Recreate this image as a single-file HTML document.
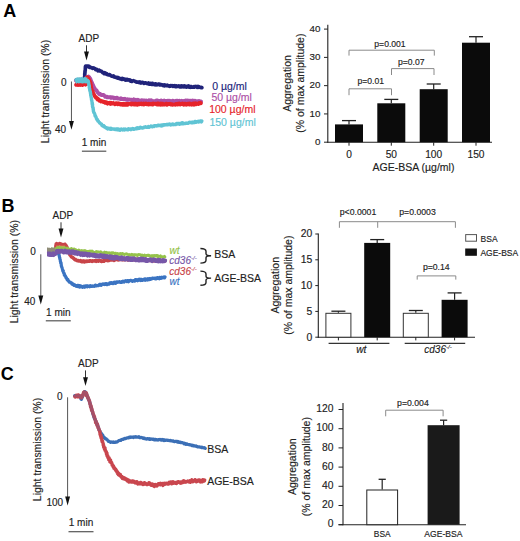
<!DOCTYPE html>
<html><head><meta charset="utf-8"><style>
html,body{margin:0;padding:0;background:#fff;}
svg{display:block;}
text{font-family:"Liberation Sans",sans-serif;}
</style></head><body>
<svg width="520" height="541" viewBox="0 0 520 541">
<rect width="520" height="541" fill="#fff"/>
<text x="3.3" y="16.6" font-size="18" text-anchor="start" fill="#000" font-weight="bold" font-style="normal" >A</text>
<text x="88.8" y="41.5" font-size="10" text-anchor="middle" fill="#222" font-weight="normal" font-style="normal" stroke="#222" stroke-width="0.15" >ADP</text>
<line x1="86.5" y1="45.3" x2="86.5" y2="52.599999999999994" stroke="#333" stroke-width="1"/>
<polygon points="84.05,51.599999999999994 88.95,51.599999999999994 86.5,60.4" fill="#111"/>
<text x="66.6" y="85.8" font-size="10" text-anchor="end" fill="#222" font-weight="normal" font-style="normal" stroke="#222" stroke-width="0.15" >0</text>
<text x="66.2" y="132.8" font-size="10" text-anchor="end" fill="#222" font-weight="normal" font-style="normal" stroke="#222" stroke-width="0.15" >40</text>
<line x1="71.45" y1="81.5" x2="71.45" y2="122.00000000000001" stroke="#555" stroke-width="1"/>
<polygon points="69.0,121.00000000000001 73.9,121.00000000000001 71.45,129.8" fill="#111"/>
<text transform="translate(49.0,91.5) rotate(-90)" font-size="10.45" text-anchor="middle" fill="#222" stroke="#222" stroke-width="0.15">Light transmission (%)</text>
<text x="94" y="145.6" font-size="10" text-anchor="middle" fill="#222" font-weight="normal" font-style="normal" stroke="#222" stroke-width="0.15" >1 min</text>
<line x1="81.9" y1="151.2" x2="106.3" y2="151.2" stroke="#555" stroke-width="1.2"/>
<polyline points="76.06,79.94 76.53,79.97 77.18,80.24 77.69,80.53 78.03,80.07 78.76,80.41 79.04,79.55 79.66,79.49 80.12,79.49 80.78,80.34 81.37,79.59 81.84,80.19 82.19,80.46 82.97,79.66 83.48,79.87 83.81,80.53 84.27,79.36 84.35,79.46 84.41,78.63 84.45,78.77 84.39,78.06 84.55,76.92 84.55,77.15 84.64,75.98 84.81,76.35 84.84,75.03 84.66,74.45 84.85,74.22 84.70,73.91 84.97,73.88 84.82,72.58 85.07,72.58 85.05,71.51 84.90,71.73 85.06,70.49 85.26,70.66 85.26,69.50 85.33,68.98 85.38,68.94 85.27,68.56 85.49,67.72 85.30,67.54 85.45,66.56 85.68,66.06 86.12,66.06 86.67,66.44 87.20,66.14 87.67,66.09 88.11,66.15 88.59,66.91 89.23,66.44 89.69,67.52 90.07,67.57 90.65,67.36 91.25,67.42 91.64,67.96 92.26,67.73 92.70,68.35 93.12,68.17 93.52,67.93 93.94,68.13 94.61,68.54 94.91,68.52 95.59,69.65 96.01,69.14 96.34,69.35 96.87,69.39 97.32,69.72 97.94,70.77 98.27,70.09 98.86,70.37 99.14,70.20 99.60,70.97 100.10,70.84 100.56,70.81 100.95,71.11 101.45,71.25 101.80,71.77 102.32,72.30 102.87,72.70 103.37,72.86 103.89,72.67 104.19,73.58 104.59,73.47 105.20,72.85 105.72,74.07 106.12,74.08 106.64,73.56 107.02,74.19 107.59,74.73 108.06,74.63 108.57,74.92 108.99,74.54 109.28,74.59 109.86,74.73 110.48,75.44 110.90,75.68 111.40,75.69 111.68,76.22 112.39,76.04 112.81,76.39 113.15,76.65 113.69,76.02 114.18,76.98 114.64,77.15 115.36,77.03 115.66,77.17 116.24,77.69 116.70,77.70 117.02,77.28 117.56,78.16 118.06,78.11 118.46,77.64 119.03,78.50 119.65,78.61 120.02,78.52 120.57,78.56 120.96,79.17 121.48,79.37 122.20,78.32 122.55,79.38 123.20,79.04 123.49,78.85 124.19,78.95 124.57,78.97 125.05,80.04 125.43,79.98 126.04,80.16 126.59,79.48 127.15,79.88 127.38,79.40 128.01,80.04 128.45,79.77 128.96,80.08 129.61,79.80 130.08,80.90 130.39,81.10 131.06,81.16 131.44,80.61 131.97,81.46 132.53,80.78 132.98,80.77 133.36,80.65 134.10,80.96 134.63,81.00 134.93,81.41 135.41,81.33 136.14,82.03 136.59,81.82 137.12,82.28 137.51,82.10 137.86,82.21 138.49,82.32 139.04,81.85 139.36,82.71 139.89,82.25 140.45,82.13 141.07,83.04 141.43,82.74 141.94,82.71 142.47,82.33 142.90,82.47 143.62,82.90 143.92,83.47 144.65,82.99 144.90,82.74 145.39,82.97 145.90,82.90 146.45,83.36 147.15,83.63 147.51,83.28 148.05,83.29 148.50,82.96 148.99,84.11 149.45,83.60 150.10,84.09 150.48,83.43 151.00,83.64 151.56,84.36 152.19,84.32 152.45,83.36 153.16,84.45 153.59,84.14 153.96,83.96 154.74,84.53 155.22,84.76 155.55,83.78 156.02,84.33 156.69,84.89 157.20,84.59 157.72,84.42 158.16,83.97 158.74,84.26 159.28,84.81 159.60,84.24 160.09,84.90 160.73,84.33 161.05,84.88 161.71,84.77 162.11,85.08 162.55,84.77 163.19,85.62 163.75,85.58 164.20,84.86 164.64,85.78 165.28,85.05 165.58,85.34 166.28,85.30 166.66,85.65 167.37,85.17 167.61,85.36 168.23,85.83 168.67,86.02 169.33,85.73 169.68,86.34 170.22,86.21 170.70,85.55 171.36,85.69 171.92,85.99 172.20,85.71 172.77,86.28 173.44,85.69 173.77,85.79 174.45,85.72 174.67,85.64 175.28,86.66 175.93,86.48 176.46,86.74 176.76,85.86 177.45,86.55 177.68,86.47 178.28,86.14 178.77,85.91 179.18,86.06 179.78,86.88 180.22,86.91 180.74,86.20 181.43,86.78 181.81,85.86 182.33,86.27 182.96,86.07 183.30,86.93 183.70,86.37 184.44,86.81 184.71,85.95 185.22,87.03 185.78,86.84 186.47,86.37 186.78,87.12 187.39,86.31 187.92,86.39 188.29,86.03 188.94,87.14 189.40,87.19 189.72,86.36 190.36,87.24 191.00,86.58 191.30,86.64 191.87,87.26 192.28,87.13 192.95,87.17 193.46,86.92 193.83,86.60 194.34,87.17 194.76,86.48 195.46,86.56 195.76,86.32 196.40,86.69 197.03,87.38 197.54,86.65 197.77,86.46 198.40,87.22 198.88,86.67 199.38,87.16 199.97,87.36 200.54,87.32 200.85,87.59 201.42,87.32 201.96,87.59" fill="none" stroke="#20237a" stroke-width="3.6" stroke-linejoin="round" stroke-linecap="round" opacity="1"/>
<polyline points="75.85,80.56 76.63,80.07 76.91,80.63 77.50,80.67 78.09,80.11 78.44,80.26 78.86,80.97 79.58,80.76 79.85,80.91 80.57,80.46 81.07,80.44 81.42,80.03 81.92,79.95 82.45,80.80 83.06,80.91 83.56,80.22 84.02,80.42 84.58,80.52 84.88,80.61 85.46,79.93 85.69,79.36 85.67,79.18 85.95,79.53 86.07,78.29 86.24,77.79 86.18,78.00 86.46,77.29 86.73,77.31 87.04,76.97 87.56,76.94 87.96,76.82 88.43,76.47 88.70,77.14 89.00,77.87 89.33,77.24 89.63,78.76 90.02,78.26 90.23,78.58 90.73,79.73 91.00,80.31 91.03,80.62 91.32,81.38 91.64,81.97 91.59,82.44 92.02,83.03 91.96,82.65 92.14,82.94 92.55,84.37 92.67,84.88 92.87,84.72 92.93,84.97 93.37,85.55 93.48,86.27 93.64,86.53 93.96,87.53 94.23,87.51 94.66,88.19 94.87,88.78 94.87,88.99 95.25,89.86 95.52,90.21 95.92,90.03 96.39,90.27 96.77,90.74 96.91,91.16 97.53,92.47 97.69,92.27 98.23,93.02 98.53,93.03 98.97,93.80 99.37,94.25 99.82,93.64 100.41,94.20 100.71,94.56 101.17,94.95 101.83,95.14 102.29,94.83 102.70,95.07 103.32,94.90 103.79,95.03 104.06,95.52 104.75,96.00 105.06,96.66 105.50,96.35 106.06,96.90 106.60,96.96 106.97,96.73 107.40,97.45 108.05,97.41 108.40,97.10 109.08,97.33 109.39,97.25 110.12,97.04 110.41,97.17 111.06,97.88 111.40,97.12 111.92,97.38 112.51,97.24 112.95,97.33 113.64,98.04 113.88,98.38 114.38,97.74 115.15,98.30 115.57,97.92 115.91,98.22 116.38,97.77 116.97,97.62 117.47,98.58 118.06,98.29 118.54,98.31 118.89,98.54 119.47,98.76 120.12,98.45 120.52,98.89 120.98,98.32 121.57,99.16 122.08,99.00 122.61,99.04 123.04,98.83 123.44,99.09 123.88,98.90 124.58,99.30 125.04,98.78 125.48,99.07 126.04,99.06 126.55,99.73 126.90,99.44 127.58,99.16 128.00,99.91 128.36,99.43 128.90,99.76 129.63,99.49 129.88,99.60 130.51,99.81 131.00,99.76 131.60,99.66 131.97,100.22 132.41,99.94 132.97,100.08 133.39,100.39 133.96,99.32 134.43,99.77 134.85,99.84 135.48,100.22 135.96,99.74 136.42,100.35 137.13,100.14 137.42,100.51 137.97,99.84 138.39,100.56 139.09,100.44 139.49,100.39 139.92,100.92 140.46,100.57 141.10,100.82 141.49,100.24 142.01,100.08 142.60,100.40 143.11,100.34 143.46,100.36 143.98,100.31 144.35,100.97 144.93,100.41 145.44,100.69 145.98,100.89 146.55,100.57 147.13,101.16 147.37,101.14 148.12,101.09 148.39,101.16 149.04,100.18 149.35,101.31 150.05,100.48 150.38,100.36 150.92,101.12 151.45,100.38 152.12,101.15 152.40,101.28 153.03,101.15 153.55,101.30 154.09,101.24 154.41,101.07 155.01,101.13 155.48,101.31 156.02,100.57 156.42,100.43 157.00,100.34 157.49,100.45 158.00,100.88 158.51,101.32 158.85,101.30 159.49,100.98 160.05,101.32 160.46,100.82 161.14,100.41 161.54,101.09 161.86,101.06 162.55,101.46 162.95,101.52 163.50,100.93 164.12,100.40 164.57,101.11 164.95,101.40 165.46,100.95 166.01,101.31 166.41,100.91 166.98,101.06 167.60,100.75 168.10,100.89 168.50,100.74 169.00,101.59 169.55,101.38 169.95,100.82 170.44,101.15 171.04,101.39 171.36,101.32 172.12,101.12 172.36,100.83 172.85,100.70 173.63,101.21 174.05,101.43 174.62,101.23 175.04,101.25 175.56,101.22 176.05,100.76 176.55,101.06 177.08,100.63 177.40,100.55 178.08,101.61 178.55,100.96 179.10,101.46 179.52,100.83 179.94,101.03 180.45,101.04 181.04,101.64 181.37,101.21 181.86,100.67 182.59,101.22 183.13,101.07 183.35,101.00 184.03,101.66 184.64,101.11 184.97,100.66 185.54,100.80 185.90,100.56 186.35,101.36 186.89,101.71 187.38,101.59 187.89,100.57 188.57,100.84 189.07,100.78 189.37,101.48 190.06,101.58 190.57,100.66 191.04,101.41 191.49,101.68 191.93,101.72 192.57,100.58 192.85,101.35 193.60,100.67 193.94,101.45 194.40,101.61 195.00,100.65 195.46,101.27 195.98,101.39 196.39,101.54 196.96,101.36 197.54,101.09 197.97,101.53 198.63,101.53 199.02,100.94 199.37,101.76 200.06,101.59 200.45,101.33 201.14,101.60" fill="none" stroke="#ad4fa6" stroke-width="3.8" stroke-linejoin="round" stroke-linecap="round" opacity="1"/>
<polyline points="76.03,84.81 76.39,84.40 77.07,83.83 77.60,84.91 77.97,84.19 78.60,84.34 78.97,84.92 79.58,84.07 79.92,84.07 80.48,84.97 81.09,84.88 81.59,84.79 81.87,84.32 82.64,84.91 82.92,84.19 83.54,84.11 84.01,83.70 84.48,84.31 84.85,83.79 85.58,84.62 85.92,84.24 86.08,84.25 86.19,82.59 86.17,82.40 86.22,81.88 86.22,82.27 86.29,80.80 86.30,80.53 86.47,79.80 86.32,79.78 86.31,79.19 86.65,78.59 86.65,78.12 87.06,77.40 87.36,77.23 87.81,77.66 88.12,77.67 88.31,78.47 88.76,79.00 88.90,79.51 89.01,80.04 89.31,80.27 89.57,80.61 89.70,80.74 89.88,81.57 90.11,82.14 90.13,82.30 90.49,82.63 90.50,83.49 90.51,84.68 90.61,84.88 90.66,84.39 90.97,85.42 90.82,85.84 91.03,86.83 91.02,86.62 91.37,87.83 91.22,87.77 91.37,88.75 91.55,89.49 91.72,89.52 91.83,90.32 92.00,90.41 92.21,91.20 92.45,90.84 92.65,91.12 92.83,92.39 92.95,93.38 93.19,93.07 93.46,94.16 93.62,93.92 93.79,94.48 94.12,94.68 94.29,95.47 94.59,95.55 95.02,96.69 95.25,96.52 95.47,96.73 95.77,97.50 96.22,97.21 96.67,97.90 97.03,98.94 97.47,98.36 97.72,99.63 98.01,98.71 98.59,99.62 99.12,100.28 99.44,100.85 99.89,100.39 100.41,100.39 100.78,100.86 101.26,101.53 101.83,101.11 102.13,101.07 102.70,101.51 103.22,102.13 103.81,101.76 104.13,102.12 104.77,101.91 105.11,102.74 105.48,102.22 106.19,103.10 106.53,102.26 107.13,103.20 107.60,103.71 108.12,102.96 108.40,102.82 109.00,103.16 109.41,102.75 110.04,103.37 110.46,103.96 111.04,102.67 111.47,103.75 111.94,103.65 112.35,103.15 113.10,103.58 113.55,103.07 114.00,103.61 114.43,103.78 115.01,104.31 115.52,103.53 115.89,103.21 116.58,103.18 116.88,103.30 117.51,104.26 118.03,104.27 118.37,103.20 119.08,103.67 119.56,103.75 119.90,103.67 120.38,104.60 121.02,103.86 121.48,103.95 121.87,104.69 122.52,104.83 122.98,104.39 123.42,103.62 124.13,104.78 124.44,104.85 125.09,104.01 125.53,104.92 126.00,104.90 126.42,104.11 127.07,103.86 127.44,104.77 128.00,104.65 128.42,103.78 128.96,103.79 129.64,103.92 130.02,103.67 130.51,104.04 130.97,103.59 131.39,104.64 131.96,103.82 132.41,103.87 132.92,103.51 133.55,103.94 133.90,104.44 134.38,103.82 135.10,103.61 135.48,104.60 136.09,103.64 136.46,104.42 136.96,104.75 137.41,104.73 138.00,103.71 138.49,103.57 139.06,103.74 139.62,104.19 139.96,103.70 140.53,103.65 141.11,103.52 141.50,104.10 141.93,104.41 142.47,104.24 143.02,103.75 143.47,103.43 143.90,104.50 144.45,104.23 144.88,104.10 145.46,104.02 145.94,103.41 146.44,103.64 146.89,104.34 147.43,103.90 148.12,104.43 148.61,104.55 148.89,103.74 149.36,104.31 150.05,103.86 150.47,104.29 151.06,103.72 151.60,103.87 152.04,103.64 152.38,104.67 153.07,104.39 153.36,103.46 153.90,103.68 154.44,103.95 154.86,103.85 155.54,103.67 156.10,104.23 156.56,103.79 156.98,104.40 157.45,103.45 158.10,104.54 158.44,103.52 159.11,104.31 159.36,103.81 159.88,104.58 160.41,104.76 161.07,103.60 161.56,104.04 162.07,104.65 162.43,103.62 163.13,104.10 163.63,104.48 164.07,104.68 164.54,104.15 164.87,104.50 165.48,104.25 166.13,103.71 166.58,103.60 167.06,104.67 167.43,104.32 168.14,104.45 168.51,103.91 168.87,104.07 169.47,103.86 169.94,103.77 170.56,104.52 170.92,103.93 171.50,104.22 172.13,104.09 172.44,104.83 172.89,104.38 173.45,104.72 174.01,104.64 174.40,104.50 175.03,104.21 175.58,104.72 175.88,103.95 176.46,103.83 176.87,103.93 177.41,104.51 177.98,103.68 178.45,104.17 178.96,103.74 179.37,103.52 180.15,104.55 180.38,104.49 181.14,104.27 181.38,104.16 181.98,103.74 182.51,103.47 183.13,104.36 183.54,104.76 184.05,103.80 184.42,103.63 184.86,104.51 185.60,103.84 185.91,104.31 186.60,104.71 186.90,104.50 187.60,104.44 187.95,103.65 188.60,103.83 188.96,104.15 189.46,104.54 189.92,103.42 190.52,104.24 191.10,104.34 191.62,104.67 192.00,104.04 192.40,103.75 193.02,103.44 193.56,103.55 193.98,104.67 194.38,103.36 194.98,103.54 195.57,103.24 196.10,104.38 196.59,103.72 196.93,103.99 197.50,103.60 197.95,103.56 198.55,104.05 199.12,103.06 199.44,103.40 200.02,103.20 200.41,102.78 200.95,103.24" fill="none" stroke="#e6232a" stroke-width="3.8" stroke-linejoin="round" stroke-linecap="round" opacity="1"/>
<polyline points="75.96,79.88 76.40,80.59 77.13,79.89 77.36,80.63 77.92,80.88 78.50,80.46 78.95,80.66 79.49,80.09 80.12,79.83 80.57,79.78 81.04,80.18 81.61,79.77 82.02,80.19 82.63,80.83 83.04,79.97 83.43,80.01 83.98,79.98 84.41,80.61 85.04,80.06 85.65,79.96 86.02,79.89 86.62,80.79 86.97,80.77 87.65,80.45 87.91,81.06 88.34,81.11 88.42,82.12 88.45,82.60 88.67,82.65 88.76,83.33 88.82,84.44 88.73,84.94 89.06,84.76 88.86,85.03 89.23,85.41 89.30,86.08 89.34,86.52 89.26,87.72 89.32,87.81 89.66,88.76 89.74,89.58 89.57,89.18 89.89,90.23 89.76,90.51 89.91,90.92 89.97,90.92 90.33,91.78 90.39,92.04 90.37,92.56 90.44,93.11 90.62,93.58 90.73,94.50 90.63,94.82 90.84,96.00 90.89,95.66 91.18,96.96 91.20,96.73 91.13,97.22 91.19,97.45 91.42,98.39 91.53,98.84 91.46,99.73 91.74,100.05 91.79,100.73 92.00,101.45 92.00,101.38 91.96,101.90 92.23,102.36 92.14,102.89 92.14,104.10 92.18,104.13 92.53,104.21 92.52,104.85 92.48,105.14 92.52,106.41 92.80,106.99 92.66,107.23 92.82,107.68 92.97,107.78 93.17,107.90 93.18,109.42 93.19,109.61 93.41,109.68 93.38,110.79 93.40,111.25 93.53,111.52 93.76,112.19 93.86,112.61 94.13,112.60 94.36,113.12 94.65,113.85 94.80,114.39 94.93,114.50 95.04,115.82 95.36,115.82 95.57,116.64 95.69,116.35 96.07,117.17 96.22,118.09 96.50,118.61 96.45,118.50 96.91,119.50 96.95,119.15 97.29,119.51 97.65,120.76 98.04,120.74 98.26,121.07 98.88,121.83 99.06,121.97 99.51,122.71 99.66,123.02 100.08,123.22 100.38,123.44 100.76,123.86 101.02,124.02 101.57,124.21 101.86,125.31 102.33,125.13 102.76,126.01 103.16,126.04 103.84,125.79 104.15,126.77 104.66,126.53 104.93,126.88 105.48,127.48 105.90,127.38 106.45,128.13 106.82,127.87 107.35,128.71 107.71,128.90 108.36,128.27 108.85,128.28 109.17,128.85 109.76,128.64 110.30,129.15 110.88,128.16 111.33,128.74 111.79,129.26 112.27,128.88 112.92,128.90 113.30,129.04 113.90,129.30 114.37,129.03 114.66,129.43 115.32,129.60 115.88,128.88 116.22,128.89 116.90,128.98 117.18,129.82 117.82,129.04 118.35,129.88 118.80,129.13 119.36,129.57 119.83,130.26 120.41,130.09 120.71,129.43 121.33,129.02 121.97,129.33 122.26,129.35 122.76,129.99 123.36,129.56 123.82,128.99 124.29,129.95 124.94,129.92 125.28,129.12 125.73,129.50 126.33,129.40 126.87,129.52 127.33,129.77 127.79,129.89 128.40,128.83 128.83,129.39 129.36,129.41 129.84,129.04 130.49,129.02 130.97,129.58 131.44,129.10 132.04,129.01 132.53,128.47 132.90,129.10 133.29,129.29 133.80,128.90 134.34,129.22 134.96,129.00 135.44,128.77 136.00,128.24 136.37,128.82 136.85,128.84 137.37,127.79 137.84,128.53 138.60,128.02 139.02,127.75 139.60,128.19 139.88,127.36 140.55,127.27 141.09,127.50 141.41,127.77 141.94,127.68 142.40,128.03 142.95,127.88 143.40,127.77 144.14,127.22 144.36,127.14 145.04,126.89 145.51,126.67 145.99,127.37 146.48,127.25 146.88,127.37 147.39,127.42 148.15,127.38 148.51,126.54 148.95,127.03 149.50,127.18 149.88,126.59 150.61,126.67 151.01,126.00 151.39,126.17 152.12,126.80 152.42,126.84 152.86,126.40 153.64,126.04 154.13,126.36 154.37,125.92 154.98,125.77 155.57,125.63 156.09,125.72 156.37,125.98 156.88,125.92 157.59,125.92 157.99,125.19 158.50,125.22 159.04,125.21 159.52,125.42 159.96,125.74 160.40,125.09 161.13,125.23 161.60,125.83 161.99,124.91 162.38,125.73 162.89,125.22 163.51,124.71 163.99,124.71 164.51,125.07 164.96,124.65 165.47,124.60 165.89,124.59 166.61,124.86 167.12,124.22 167.65,124.74 168.12,124.78 168.60,124.33 169.14,124.18 169.51,123.99 170.06,124.52 170.55,124.92 171.00,124.49 171.56,124.46 172.24,124.55 172.54,123.94 173.21,124.78 173.56,124.29 174.27,124.48 174.68,124.42 175.23,124.51 175.61,124.48 176.25,123.79 176.67,123.54 177.38,124.01 177.72,123.56 178.23,123.34 178.77,123.45 179.51,124.20 179.97,123.53 180.39,123.84 181.02,123.75 181.44,123.04 181.94,123.77 182.49,122.82 182.97,123.07 183.30,123.77 183.95,123.45 184.29,123.50 185.03,123.55 185.47,123.41 185.99,123.07 186.38,123.30 186.99,123.31 187.34,123.37 187.91,123.30 188.28,123.28 188.99,122.37 189.50,122.30 189.81,122.52 190.32,122.51 191.02,122.70 191.46,122.30 191.99,122.73 192.45,122.86 193.00,122.17 193.28,122.41 194.00,121.99 194.43,122.54 194.99,121.49 195.40,121.45 195.78,122.36 196.38,122.06 196.89,121.69 197.31,121.66 198.00,121.93 198.34,121.25 198.83,121.93 199.38,121.84 199.99,121.14 200.45,121.00 201.00,121.12 201.33,122.00 201.86,121.07" fill="none" stroke="#60c4d4" stroke-width="3.4" stroke-linejoin="round" stroke-linecap="round" opacity="1"/>
<polygon points="75.80,77.77 76.30,77.43 76.80,77.77 77.30,77.17 77.80,77.30 78.30,77.85 78.80,77.31 79.30,77.89 79.80,76.93 80.30,77.70 80.80,76.89 81.30,77.33 81.80,76.70 82.30,76.91 82.80,77.83 83.30,77.25 83.80,77.67 84.30,77.00 84.80,77.12 85.30,76.82 85.80,77.36 86.30,77.73 86.80,77.32 87.30,77.15 87.30,83.67 86.80,83.50 86.30,83.14 85.80,83.27 85.30,83.42 84.80,83.60 84.30,82.67 83.80,83.77 83.30,83.04 82.80,83.20 82.30,83.69 81.80,83.41 81.30,83.23 80.80,83.05 80.30,83.36 79.80,83.39 79.30,83.03 78.80,83.75 78.30,83.13 77.80,83.35 77.30,82.69 76.80,83.40 76.30,83.67 75.80,83.71" fill="#60c4d4" opacity="1"/>
<text x="212.3" y="89.8" font-size="10.5" text-anchor="start" fill="#20237a" font-weight="normal" font-style="normal" stroke="#20237a" stroke-width="0.15" >0 µg/ml</text>
<text x="211.4" y="101.3" font-size="10.5" text-anchor="start" fill="#ad4fa6" font-weight="normal" font-style="normal" stroke="#ad4fa6" stroke-width="0.15" >50 µg/ml</text>
<text x="209.2" y="112.8" font-size="10.5" text-anchor="start" fill="#e6232a" font-weight="normal" font-style="normal" stroke="#e6232a" stroke-width="0.15" >100 µg/ml</text>
<text x="209.4" y="125.8" font-size="10.5" text-anchor="start" fill="#60c4d4" font-weight="normal" font-style="normal" stroke="#60c4d4" stroke-width="0.15" >150 µg/ml</text>
<line x1="327.8" y1="24.8" x2="327.8" y2="142.7" stroke="#222" stroke-width="1.1"/>
<line x1="327.3" y1="142.2" x2="492" y2="142.2" stroke="#222" stroke-width="1.1"/>
<line x1="324.0" y1="142.2" x2="327.8" y2="142.2" stroke="#222" stroke-width="1"/>
<text x="320.5" y="144.89999999999998" font-size="9.8" text-anchor="end" fill="#222" font-weight="normal" font-style="normal" stroke="#222" stroke-width="0.15" >0</text>
<line x1="324.0" y1="113.92499999999998" x2="327.8" y2="113.92499999999998" stroke="#222" stroke-width="1"/>
<text x="320.5" y="116.62499999999999" font-size="9.8" text-anchor="end" fill="#222" font-weight="normal" font-style="normal" stroke="#222" stroke-width="0.15" >10</text>
<line x1="324.0" y1="85.64999999999999" x2="327.8" y2="85.64999999999999" stroke="#222" stroke-width="1"/>
<text x="320.5" y="88.35" font-size="9.8" text-anchor="end" fill="#222" font-weight="normal" font-style="normal" stroke="#222" stroke-width="0.15" >20</text>
<line x1="324.0" y1="57.375" x2="327.8" y2="57.375" stroke="#222" stroke-width="1"/>
<text x="320.5" y="60.075" font-size="9.8" text-anchor="end" fill="#222" font-weight="normal" font-style="normal" stroke="#222" stroke-width="0.15" >30</text>
<line x1="324.0" y1="29.099999999999994" x2="327.8" y2="29.099999999999994" stroke="#222" stroke-width="1"/>
<text x="320.5" y="31.799999999999994" font-size="9.8" text-anchor="end" fill="#222" font-weight="normal" font-style="normal" stroke="#222" stroke-width="0.15" >40</text>
<line x1="349.0" y1="124.4" x2="349.0" y2="120.6" stroke="#222" stroke-width="1.2"/>
<line x1="342.0" y1="120.6" x2="356.0" y2="120.6" stroke="#222" stroke-width="1.3"/>
<rect x="335" y="124.4" width="28" height="17.799999999999983" fill="#0b0b0b"/>
<line x1="349.0" y1="142.2" x2="349.0" y2="145.7" stroke="#222" stroke-width="1"/>
<line x1="391.3" y1="103.3" x2="391.3" y2="99.4" stroke="#222" stroke-width="1.2"/>
<line x1="384.3" y1="99.4" x2="398.3" y2="99.4" stroke="#222" stroke-width="1.3"/>
<rect x="377.3" y="103.3" width="28" height="38.89999999999999" fill="#0b0b0b"/>
<line x1="391.3" y1="142.2" x2="391.3" y2="145.7" stroke="#222" stroke-width="1"/>
<line x1="433.7" y1="89.2" x2="433.7" y2="84.0" stroke="#222" stroke-width="1.2"/>
<line x1="426.7" y1="84.0" x2="440.7" y2="84.0" stroke="#222" stroke-width="1.3"/>
<rect x="419.7" y="89.2" width="28" height="52.999999999999986" fill="#0b0b0b"/>
<line x1="433.7" y1="142.2" x2="433.7" y2="145.7" stroke="#222" stroke-width="1"/>
<line x1="476.0" y1="42.7" x2="476.0" y2="36.7" stroke="#222" stroke-width="1.2"/>
<line x1="469.0" y1="36.7" x2="483.0" y2="36.7" stroke="#222" stroke-width="1.3"/>
<rect x="462" y="42.7" width="28" height="99.49999999999999" fill="#0b0b0b"/>
<line x1="476.0" y1="142.2" x2="476.0" y2="145.7" stroke="#222" stroke-width="1"/>
<text x="349.0" y="157.9" font-size="10.2" text-anchor="middle" fill="#222" font-weight="normal" font-style="normal" stroke="#222" stroke-width="0.15" >0</text>
<text x="391.3" y="157.9" font-size="10.2" text-anchor="middle" fill="#222" font-weight="normal" font-style="normal" stroke="#222" stroke-width="0.15" >50</text>
<text x="433.7" y="157.9" font-size="10.2" text-anchor="middle" fill="#222" font-weight="normal" font-style="normal" stroke="#222" stroke-width="0.15" >100</text>
<text x="476.0" y="157.9" font-size="10.2" text-anchor="middle" fill="#222" font-weight="normal" font-style="normal" stroke="#222" stroke-width="0.15" >150</text>
<text x="413.5" y="171.3" font-size="10.5" text-anchor="middle" fill="#222" font-weight="normal" font-style="normal" stroke="#222" stroke-width="0.15" >AGE-BSA (µg/ml)</text>
<text transform="translate(290.6,83.5) rotate(-90)" font-size="10.5" text-anchor="middle" fill="#222" stroke="#222" stroke-width="0.15">Aggregation</text>
<text transform="translate(303.6,83.2) rotate(-90)" font-size="10.5" text-anchor="middle" fill="#222" stroke="#222" stroke-width="0.15">(% of max amplitude)</text>
<polyline points="349,95.2 349,88.8 391.5,88.8 391.5,95.2" fill="none" stroke="#8a8a8a" stroke-width="1"/>
<text x="370.8" y="84" font-size="8.6" text-anchor="middle" fill="#222" font-weight="normal" font-style="normal" stroke="#222" stroke-width="0.15" >p=0.01</text>
<polyline points="391.5,75 391.5,68.6 434,68.6 434,75" fill="none" stroke="#8a8a8a" stroke-width="1"/>
<text x="411.3" y="65" font-size="8.6" text-anchor="middle" fill="#222" font-weight="normal" font-style="normal" stroke="#222" stroke-width="0.15" >p=0.07</text>
<polyline points="349,55.6 349,50.2 434.3,50.2 434.3,55.6" fill="none" stroke="#8a8a8a" stroke-width="1"/>
<text x="390" y="46.5" font-size="8.6" text-anchor="middle" fill="#222" font-weight="normal" font-style="normal" stroke="#222" stroke-width="0.15" >p=0.001</text>
<text x="1.5" y="211.5" font-size="18" text-anchor="start" fill="#000" font-weight="bold" font-style="normal" >B</text>
<text x="62.9" y="218.5" font-size="10" text-anchor="middle" fill="#222" font-weight="normal" font-style="normal" stroke="#222" stroke-width="0.15" >ADP</text>
<line x1="61" y1="222.3" x2="61" y2="229.6" stroke="#333" stroke-width="1"/>
<polygon points="58.55,228.6 63.45,228.6 61,237.4" fill="#111"/>
<text x="35.8" y="255.4" font-size="10" text-anchor="end" fill="#222" font-weight="normal" font-style="normal" stroke="#222" stroke-width="0.15" >0</text>
<line x1="40.8" y1="254.3" x2="40.8" y2="296.59999999999997" stroke="#555" stroke-width="1"/>
<polygon points="38.349999999999994,295.59999999999997 43.25,295.59999999999997 40.8,304.4" fill="#111"/>
<text x="35.4" y="305.4" font-size="10" text-anchor="end" fill="#222" font-weight="normal" font-style="normal" stroke="#222" stroke-width="0.15" >40</text>
<text transform="translate(18.1,271.7) rotate(-90)" font-size="10.45" text-anchor="middle" fill="#222" stroke="#222" stroke-width="0.15">Light transmission (%)</text>
<text x="58.3" y="316.2" font-size="10" text-anchor="middle" fill="#222" font-weight="normal" font-style="normal" stroke="#222" stroke-width="0.15" >1 min</text>
<line x1="45.8" y1="320.8" x2="70.8" y2="320.8" stroke="#555" stroke-width="1.2"/>
<polyline points="48.64,252.42 49.07,252.36 49.59,252.91 49.89,251.92 50.41,252.60 50.96,251.91 51.60,252.84 51.99,251.95 52.62,252.54 52.87,252.29 53.54,252.96 54.00,252.67 54.40,252.18 55.06,252.29 55.16,252.37 55.36,251.56 55.54,251.56 55.63,251.19 55.61,249.91 55.72,249.37 55.68,249.27 55.77,249.13 55.67,248.53 55.84,247.80 55.71,247.80 55.87,246.27 55.80,246.86 55.82,245.63 56.03,245.63 56.07,245.07 56.08,243.93 56.70,244.57 56.87,243.57 57.43,244.57 57.93,244.24 58.66,244.19 59.17,243.75 59.47,243.47 60.17,243.59 60.76,244.33 61.04,244.46 61.56,244.12 62.07,244.47 62.82,244.64 63.08,244.58 63.77,244.56 64.25,244.39 64.73,244.77 64.96,244.19 65.44,244.90 65.71,245.02 66.13,245.51 66.47,246.93 66.66,246.58 66.99,247.15 67.15,247.51 67.51,248.50 67.52,248.43 67.82,249.81 68.04,249.39 68.08,250.10 68.39,250.39 68.53,251.86 68.76,251.17 68.74,251.77 69.11,252.83 69.25,253.13 69.40,253.79 69.68,254.62 69.96,254.93 70.33,255.41 70.64,254.86 71.01,256.26 71.32,256.71 71.63,257.20 72.10,257.32 72.45,257.22 72.90,257.61 73.27,258.09 73.97,258.67 74.40,259.13 74.82,259.73 75.24,259.18 75.56,259.60 75.99,259.59 76.77,260.57 77.13,260.53 77.79,260.81 78.32,260.52 78.65,261.01 79.24,260.91 79.78,260.94 80.48,260.62 80.88,261.33 81.40,261.76 81.88,261.77 82.47,261.84 82.80,260.93 83.37,261.76 83.79,260.98 84.51,261.84 84.85,261.17 85.51,261.47 86.04,261.54 86.40,260.94 86.84,261.45 87.40,260.92 88.13,261.38 88.53,261.38 89.04,261.42 89.46,260.66 89.89,260.59 90.49,260.74 90.92,261.15 91.69,261.38 91.99,261.47 92.46,260.66 93.01,261.02 93.63,261.06 94.15,260.63 94.72,260.92 95.20,260.54 95.70,260.77 96.22,261.45 96.67,260.81 96.98,260.70 97.76,260.66 98.19,261.16 98.70,260.67 99.05,260.56 99.81,260.90 100.22,261.11 100.60,260.50 101.04,261.44 101.58,261.56 102.16,261.25 102.61,261.29 103.15,260.73 103.75,260.38 104.18,261.15 104.71,260.60 105.37,260.35 105.71,260.30 106.28,260.42 106.87,260.49 107.45,259.94 107.91,260.83 108.29,259.81 108.87,259.86 109.39,260.52 109.79,259.76 110.42,259.77 110.86,260.04 111.34,259.54 111.93,259.97 112.61,260.02 112.86,259.58 113.57,259.96 114.11,260.42 114.61,259.38 115.13,259.86 115.42,259.42 116.11,259.45 116.37,259.49 117.13,259.71 117.57,259.23 117.99,259.50 118.41,259.90 118.96,259.23 119.65,259.65 119.90,259.07 120.55,259.65 120.86,259.58 121.57,259.64 121.92,259.58 122.53,259.75 122.89,259.91 123.63,259.82 124.11,259.35 124.62,259.11 124.92,259.59 125.62,258.96 125.92,258.88 126.48,258.99 126.91,259.70 127.52,259.92 127.97,259.59 128.35,259.89 128.92,259.31 129.50,259.86 130.00,259.91 130.54,258.99 131.10,258.99 131.65,259.31 131.92,259.94 132.45,259.30 132.95,259.63 133.36,259.30 133.90,259.87 134.35,259.62 134.93,259.46 135.52,259.79 135.89,259.25 136.39,260.13 136.89,259.16 137.51,259.72 138.12,259.11 138.42,259.27 139.03,259.63 139.47,260.17 140.05,260.16 140.64,259.47 141.13,259.66 141.37,260.29 141.88,259.24 142.44,259.58 143.14,260.30 143.48,259.91 144.10,260.27 144.55,259.94 144.88,259.64 145.55,260.07 146.09,260.46 146.64,259.64 146.87,260.51 147.52,259.67 148.06,259.78 148.42,259.93 149.01,260.33 149.37,260.43 150.04,260.12 150.55,260.54 150.85,260.17 151.55,260.47 152.04,259.86 152.64,260.61 152.92,260.20 153.64,259.96 153.97,260.88 154.62,260.03 155.07,260.20 155.55,260.71 155.89,260.08 156.41,260.15 156.86,260.02 157.47,260.38 157.87,260.60 158.63,260.61 158.96,260.79 159.48,260.17 159.99,260.01 160.55,260.20 160.96,261.18 161.58,261.05 162.04,260.83 162.56,261.25 162.91,261.03 163.44,260.44 164.10,260.88 164.60,261.23 165.03,260.44" fill="none" stroke="#c84448" stroke-width="3.4" stroke-linejoin="round" stroke-linecap="round" opacity="1"/>
<rect x="56" y="245.5" width="9" height="3.5" fill="#d9884a" opacity="0.8"/>
<polyline points="48.96,252.79 49.66,253.28 49.92,253.60 50.42,253.10 51.05,253.28 51.57,252.33 52.12,253.41 52.72,252.70 53.07,253.27 53.76,252.47 54.30,253.61 54.69,252.68 55.29,253.49 55.65,252.54 56.21,253.17 56.66,252.83 57.21,252.86 57.50,253.01 58.09,252.14 58.29,251.47 58.51,252.21 58.60,253.09 58.60,253.68 58.67,252.84 58.87,254.66 59.10,255.26 59.10,255.74 59.22,255.07 59.36,256.58 59.41,256.79 59.47,256.81 59.64,257.68 59.76,257.56 59.74,258.45 60.06,259.57 60.03,259.34 60.23,259.73 60.37,261.32 60.36,261.35 60.63,262.11 60.74,262.55 60.72,263.25 61.03,262.58 61.15,263.67 61.00,263.62 61.33,265.04 61.24,265.21 61.50,266.53 61.53,266.69 61.62,266.34 61.73,267.15 62.01,267.48 62.04,267.83 62.19,268.27 62.43,269.21 62.56,269.65 62.81,270.87 62.99,271.30 63.16,270.66 63.36,271.06 63.41,271.42 63.74,273.24 63.82,272.80 64.00,273.27 64.25,273.81 64.26,274.99 64.57,274.18 64.86,275.71 64.96,276.00 65.40,276.08 65.54,276.34 65.86,277.30 66.20,278.15 66.31,277.68 66.81,278.74 67.01,278.98 67.22,279.80 67.57,279.40 67.75,279.38 68.25,280.82 68.29,280.50 68.75,281.13 69.09,282.06 69.49,281.82 70.07,282.27 70.35,282.09 70.74,282.79 71.27,282.56 71.56,283.03 71.97,284.11 72.44,283.44 72.79,284.54 73.16,284.63 73.53,284.17 73.96,285.35 74.43,284.71 74.87,284.93 75.56,285.74 76.10,286.19 76.49,286.26 76.84,286.37 77.44,285.38 78.02,286.49 78.41,285.45 79.05,286.54 79.46,286.99 79.78,285.71 80.30,285.77 80.97,286.77 81.29,286.13 81.82,286.81 82.47,287.34 82.89,287.32 83.42,286.40 83.88,286.13 84.61,287.24 85.04,285.98 85.39,285.91 85.96,286.76 86.38,286.41 87.08,285.63 87.52,286.74 88.07,286.19 88.67,286.38 89.02,286.04 89.71,286.71 90.21,286.22 90.49,285.60 91.07,286.32 91.46,286.42 92.20,285.93 92.47,286.29 93.10,286.03 93.65,286.05 94.10,286.33 94.77,286.22 95.17,285.24 95.61,285.10 96.27,285.82 96.74,285.80 97.30,285.53 97.61,285.57 98.09,285.29 98.57,285.59 99.17,284.65 99.81,284.30 100.31,285.25 100.58,285.19 101.21,285.34 101.72,284.56 102.33,283.98 102.78,283.93 103.13,283.87 103.81,284.29 104.27,283.94 104.77,284.45 105.08,284.15 105.77,283.65 106.25,283.68 106.66,284.56 107.33,284.61 107.68,283.89 108.29,284.10 108.69,284.18 109.17,284.24 109.69,282.92 110.27,282.88 110.75,282.67 111.35,283.33 111.77,282.64 112.24,282.94 112.62,283.52 113.06,282.94 113.58,283.43 114.33,282.13 114.72,282.71 115.31,283.03 115.71,283.26 116.17,281.99 116.88,281.89 117.20,282.39 117.76,281.81 118.45,282.21 118.92,281.80 119.47,281.68 119.99,282.20 120.52,282.36 120.93,281.93 121.51,281.72 121.80,282.36 122.52,281.94 123.02,281.19 123.45,282.00 124.11,282.08 124.38,281.65 125.01,281.17 125.40,280.71 125.99,281.20 126.43,280.97 127.02,281.51 127.53,280.57 128.12,280.83 128.64,281.71 128.89,281.06 129.64,280.72 130.01,280.57 130.36,280.36 130.89,280.44 131.54,280.81 132.13,280.95 132.46,281.30 133.04,280.64 133.61,280.79 133.96,280.65 134.44,281.15 134.92,281.11 135.37,279.62 136.02,279.87 136.50,279.69 137.10,280.47 137.56,280.82 138.15,280.40 138.56,279.34 138.86,279.93 139.64,279.71 140.02,279.21 140.47,280.51 141.03,280.35 141.35,279.37 141.90,280.27 142.38,280.37 142.93,280.25 143.50,279.37 144.14,279.45 144.56,278.90 145.10,280.22 145.38,279.82 145.93,278.87 146.46,279.59 147.14,280.04 147.65,279.43 148.05,278.69 148.57,279.23 148.96,279.70 149.43,278.51 149.90,278.47 150.53,279.40 150.90,278.90 151.52,278.94 151.97,278.87 152.35,278.09 152.98,278.31 153.58,278.26 154.10,278.21 154.38,278.52 154.97,278.25 155.58,278.03 156.05,278.90 156.49,278.35 157.13,278.46 157.40,277.60 157.87,277.95 158.38,278.37 158.98,277.81 159.50,278.70 159.92,277.48 160.44,277.69 161.12,278.21 161.48,277.35 161.86,277.23 162.60,277.97 162.90,277.89 163.37,277.66 163.95,277.00 164.57,277.88 165.00,277.00" fill="none" stroke="#3b74c2" stroke-width="3.2" stroke-linejoin="round" stroke-linecap="round" opacity="1"/>
<polyline points="48.38,249.32 48.98,249.51 49.44,249.78 50.00,250.17 50.40,249.51 51.00,249.32 51.61,249.09 52.11,249.30 52.45,249.66 53.02,249.20 53.38,250.14 53.96,248.96 54.54,249.54 54.93,249.19 55.53,249.01 55.79,249.51 56.14,248.29 56.48,248.30 57.07,247.81 57.47,247.46 58.09,247.77 58.60,247.67 59.07,247.19 59.42,248.51 60.05,248.12 60.50,247.85 60.91,247.44 61.54,248.18 61.93,248.12 62.39,248.08 62.90,247.95 63.44,248.02 63.89,247.93 64.53,247.46 64.94,248.23 65.51,248.16 66.08,248.14 66.42,248.03 67.10,248.29 67.58,248.11 67.98,249.06 68.60,248.71 68.88,248.76 69.36,249.31 70.14,249.12 70.43,249.38 70.90,249.46 71.51,248.42 72.12,249.12 72.60,249.56 73.01,249.91 73.41,250.06 73.95,248.94 74.45,249.09 74.87,249.97 75.39,249.42 75.94,249.69 76.63,250.67 77.11,250.89 77.48,250.71 77.93,251.00 78.59,250.83 78.92,250.03 79.63,250.77 80.03,251.28 80.39,251.11 80.99,251.28 81.49,250.49 82.14,250.65 82.57,251.46 82.92,251.31 83.47,250.69 83.92,251.75 84.46,251.16 85.00,250.53 85.58,251.57 86.11,251.07 86.41,251.09 87.07,251.57 87.47,251.42 87.90,252.01 88.49,251.47 89.09,251.08 89.57,251.34 90.09,251.01 90.43,251.81 90.99,251.49 91.52,251.30 91.98,251.04 92.59,251.43 93.10,251.89 93.53,252.03 93.89,252.28 94.44,252.44 95.09,252.22 95.59,251.92 96.05,252.68 96.41,251.53 96.97,252.14 97.39,251.77 98.11,252.05 98.39,251.80 99.02,251.85 99.49,252.37 99.98,252.37 100.60,251.72 101.13,252.02 101.36,252.85 102.02,252.57 102.42,252.95 102.94,252.91 103.42,252.73 104.04,252.49 104.49,252.10 105.04,253.02 105.40,252.86 106.07,252.27 106.60,253.39 106.87,252.55 107.38,252.60 107.88,252.97 108.43,252.74 108.99,252.88 109.59,253.41 109.88,252.75 110.35,252.94 110.88,253.49 111.58,253.95 111.91,252.65 112.58,253.21 113.13,253.22 113.44,252.81 114.13,253.47 114.48,253.40 115.08,253.99 115.49,253.12 115.97,254.16 116.47,253.87 117.02,253.63 117.52,253.37 118.02,254.27 118.37,253.62 119.11,254.51 119.35,254.06 120.04,254.40 120.49,253.44 120.94,254.30 121.57,253.62 122.04,254.30 122.55,253.45 122.98,253.91 123.53,253.96 123.89,254.47 124.44,254.68 124.94,254.37 125.59,253.81 126.07,253.78 126.63,253.76 127.07,254.28 127.40,254.36 128.00,254.42 128.39,254.61 128.94,255.28 129.46,254.57 129.92,255.35 130.45,254.93 131.10,254.60 131.58,254.47 131.88,254.16 132.48,255.35 132.91,254.77 133.58,254.57 133.90,254.93 134.48,255.55 135.12,254.59 135.52,254.87 135.86,254.93 136.62,254.76 137.03,255.35 137.37,255.68 137.88,254.83 138.56,254.46 138.96,254.64 139.49,254.51 139.90,254.83 140.37,254.67 140.91,255.29 141.39,255.74 141.98,254.97 142.42,255.82 142.86,255.71 143.38,256.02 143.97,255.56 144.61,254.89 144.87,255.74 145.53,255.81 145.93,255.52 146.41,255.46 146.93,255.69 147.44,255.28 148.04,255.05 148.59,255.65 148.92,255.14 149.50,255.71 150.07,255.55 150.47,256.30 150.93,256.45 151.62,256.49 152.13,255.49 152.59,256.01 152.91,256.58 153.54,256.34 154.02,255.35 154.61,255.51 154.93,256.15 155.41,255.96 156.06,255.47 156.55,255.51 156.99,256.30 157.56,255.47 157.91,256.78 158.47,256.06 158.96,256.47 159.57,256.43 159.97,256.34 160.50,255.83 161.13,256.95 161.58,257.01 161.99,256.82 162.42,256.71 163.06,257.01 163.60,256.95 163.93,256.85 164.49,256.21 164.96,256.92" fill="none" stroke="#95c24a" stroke-width="2.8" stroke-linejoin="round" stroke-linecap="round" opacity="1"/>
<polyline points="49.65,253.72 50.10,254.67 50.44,254.29 51.06,254.56 51.52,253.64 51.93,254.07 52.39,254.58 53.12,253.59 53.56,254.28 53.89,254.45 54.58,253.68 54.85,253.59 55.46,253.73 55.81,252.93 55.88,252.82 56.36,252.06 56.38,252.55 56.66,252.00 56.99,251.02 57.58,251.88 57.98,251.17 58.36,251.01 58.92,251.75 59.56,251.77 60.01,251.66 60.39,251.18 60.94,251.04 61.57,250.95 61.95,251.08 62.61,251.68 62.99,251.28 63.63,252.20 63.98,251.63 64.61,251.16 64.93,250.93 65.50,252.02 65.90,251.51 66.65,251.61 66.96,252.20 67.62,251.49 67.89,251.93 68.57,252.41 69.05,251.45 69.50,251.45 69.98,251.78 70.62,252.55 71.12,251.96 71.63,251.51 72.11,252.41 72.59,252.14 73.12,251.61 73.57,252.98 73.93,253.09 74.37,253.06 74.95,252.61 75.36,253.33 76.02,252.29 76.59,252.60 76.90,253.00 77.46,253.86 78.06,253.54 78.39,252.80 78.79,253.55 79.44,253.53 80.06,253.57 80.36,253.68 80.81,254.60 81.43,254.05 81.87,253.65 82.34,254.10 82.87,254.93 83.41,253.75 83.75,253.73 84.34,254.78 85.00,253.97 85.46,254.35 85.88,254.55 86.23,253.86 86.92,254.91 87.33,255.34 87.96,254.40 88.23,254.86 88.90,254.39 89.21,254.87 89.71,255.32 90.38,254.64 90.83,254.62 91.24,254.60 91.93,255.09 92.40,254.97 92.92,255.43 93.37,255.16 93.84,254.89 94.46,255.72 94.83,255.72 95.19,255.29 95.73,256.16 96.16,255.57 96.92,256.17 97.37,255.45 97.72,256.15 98.23,256.24 98.75,256.36 99.31,256.50 99.93,255.85 100.43,255.32 100.89,255.41 101.29,256.04 101.85,255.97 102.18,256.78 102.78,256.79 103.26,255.70 103.84,256.04 104.25,255.75 104.68,256.87 105.33,256.88 105.73,257.09 106.30,256.30 106.75,256.98 107.31,256.40 107.68,256.68 108.11,256.75 108.80,257.17 109.13,257.47 109.61,257.56 110.12,256.57 110.64,257.29 111.15,257.94 111.84,257.03 112.28,257.75 112.72,257.10 113.34,258.27 113.56,257.32 114.16,257.16 114.70,258.32 115.09,258.27 115.68,257.00 116.37,257.45 116.67,257.25 117.23,257.30 117.68,257.55 118.31,257.91 118.74,258.08 119.39,258.44 119.77,258.79 120.41,258.27 120.82,257.94 121.23,258.87 121.88,257.66 122.49,258.96 122.73,258.71 123.30,258.49 123.99,258.24 124.40,258.78 124.81,258.76 125.39,259.38 125.83,258.99 126.30,258.33 126.83,258.18 127.46,258.26 128.05,258.18 128.51,259.45 128.87,258.46 129.57,258.91 130.13,258.73 130.47,259.76 130.95,259.80 131.62,258.61 132.01,259.82 132.39,259.70 133.08,259.57 133.53,258.56 134.14,258.59 134.59,259.61 134.95,259.58 135.47,259.72 135.86,260.04 136.47,259.86 136.99,259.90 137.44,259.50 137.86,259.44 138.37,260.06 139.05,259.39 139.64,260.26 140.14,258.90 140.56,259.96 141.03,258.85 141.63,259.56 142.03,260.19 142.43,258.96 143.13,259.38 143.36,259.19 144.15,260.18 144.41,259.26 145.12,260.12 145.52,259.30 145.97,260.63 146.35,259.81 146.87,260.77 147.38,260.73 148.10,260.40 148.36,260.37 149.00,260.07 149.39,260.13 150.09,259.55 150.61,260.04 150.93,259.78 151.49,260.46 152.02,260.88 152.50,260.31 153.15,259.86 153.35,260.07 153.94,259.77 154.48,259.66 155.13,260.40 155.61,260.77 156.07,260.90 156.44,260.88 156.91,260.63 157.53,261.01 157.90,260.35 158.60,261.12 159.14,260.05 159.41,260.06 160.07,261.11 160.54,261.19 161.00,260.87 161.63,261.04 162.05,260.97 162.50,261.27 163.02,260.29 163.48,260.79 163.98,261.04 164.46,260.80 164.98,260.79" fill="none" stroke="#7757a8" stroke-width="4.4" stroke-linejoin="round" stroke-linecap="round" opacity="1"/>
<polygon points="47.00,251.96 47.50,250.73 48.00,250.62 48.50,251.61 49.00,251.15 49.50,251.23 50.00,251.43 50.50,251.11 51.00,250.93 51.50,250.62 52.00,251.82 52.50,251.91 53.00,251.00 53.50,251.25 54.00,251.05 54.50,250.68 55.00,251.85 55.00,256.00 54.50,256.44 54.00,256.80 53.50,257.18 53.00,256.63 52.50,255.96 52.00,257.00 51.50,257.01 51.00,256.92 50.50,256.13 50.00,256.34 49.50,256.46 49.00,256.92 48.50,256.78 48.00,256.16 47.50,256.14 47.00,256.97" fill="#7757a8" opacity="1"/>
<polygon points="47.00,246.90 47.50,247.97 48.00,246.91 48.50,248.09 49.00,247.87 49.50,247.56 50.00,248.23 50.50,248.29 51.00,247.79 51.50,246.96 52.00,247.74 52.50,247.47 53.00,247.20 53.50,248.29 54.00,247.97 54.50,246.99 55.00,247.17 55.00,251.25 54.50,251.72 54.00,251.70 53.50,251.36 53.00,250.88 52.50,251.67 52.00,251.22 51.50,252.22 51.00,252.21 50.50,251.23 50.00,251.85 49.50,250.99 49.00,252.00 48.50,251.40 48.00,251.22 47.50,251.62 47.00,251.25" fill="#8f8c78" opacity="1"/>
<text x="169.6" y="254.2" font-size="10" text-anchor="start" fill="#95c24a" font-weight="normal" font-style="italic" stroke="#95c24a" stroke-width="0.15" >wt</text>
<text x="169.3" y="263.6" font-size="10" font-style="italic" fill="#7757a8" stroke="#7757a8" stroke-width="0.15">cd36<tspan font-size="6" dy="-4">-/-</tspan></text>
<text x="169.3" y="274.6" font-size="10" font-style="italic" fill="#c84448" stroke="#c84448" stroke-width="0.15">cd36<tspan font-size="6" dy="-4">-/-</tspan></text>
<text x="169.6" y="284.7" font-size="10" text-anchor="start" fill="#3b74c2" font-weight="normal" font-style="italic" stroke="#3b74c2" stroke-width="0.15" >wt</text>
<path d="M200.4,248.5 C204.88,248.5 206,249.3 206,251.3 L206,253.8 C206,255.20000000000002 208,255.8 211.1,255.8 C208,255.8 206,256.40000000000003 206,257.8 L206,260.3 C206,262.3 204.88,263.1 200.4,263.1" fill="none" stroke="#222" stroke-width="1.4"/>
<path d="M200.4,271.1 C204.88,271.1 206,271.90000000000003 206,273.90000000000003 L206,276.15 C206,277.54999999999995 208,278.15 211.1,278.15 C208,278.15 206,278.75 206,280.15 L206,282.4 C206,284.4 204.88,285.2 200.4,285.2" fill="none" stroke="#222" stroke-width="1.4"/>
<text x="214.3" y="258.4" font-size="10.5" text-anchor="start" fill="#222" font-weight="normal" font-style="normal" stroke="#222" stroke-width="0.15" >BSA</text>
<text x="214.3" y="281.8" font-size="10.5" text-anchor="start" fill="#222" font-weight="normal" font-style="normal" stroke="#222" stroke-width="0.15" >AGE-BSA</text>
<line x1="318.3" y1="233.5" x2="318.3" y2="337.7" stroke="#222" stroke-width="1.1"/>
<line x1="317.8" y1="337.2" x2="475" y2="337.2" stroke="#222" stroke-width="1.1"/>
<line x1="315.3" y1="337.2" x2="318.3" y2="337.2" stroke="#222" stroke-width="1"/>
<text x="312.4" y="340.5" font-size="10.4" text-anchor="end" fill="#222" font-weight="normal" font-style="normal" stroke="#222" stroke-width="0.15" >0</text>
<line x1="315.3" y1="311.4" x2="318.3" y2="311.4" stroke="#222" stroke-width="1"/>
<text x="312.4" y="314.7" font-size="10.4" text-anchor="end" fill="#222" font-weight="normal" font-style="normal" stroke="#222" stroke-width="0.15" >5</text>
<line x1="315.3" y1="285.6" x2="318.3" y2="285.6" stroke="#222" stroke-width="1"/>
<text x="312.4" y="288.90000000000003" font-size="10.4" text-anchor="end" fill="#222" font-weight="normal" font-style="normal" stroke="#222" stroke-width="0.15" >10</text>
<line x1="315.3" y1="259.8" x2="318.3" y2="259.8" stroke="#222" stroke-width="1"/>
<text x="312.4" y="263.1" font-size="10.4" text-anchor="end" fill="#222" font-weight="normal" font-style="normal" stroke="#222" stroke-width="0.15" >15</text>
<line x1="315.3" y1="234.0" x2="318.3" y2="234.0" stroke="#222" stroke-width="1"/>
<text x="312.4" y="237.3" font-size="10.4" text-anchor="end" fill="#222" font-weight="normal" font-style="normal" stroke="#222" stroke-width="0.15" >20</text>
<line x1="338.4" y1="312.8" x2="338.4" y2="311.2" stroke="#222" stroke-width="1.2"/>
<line x1="331.4" y1="311.2" x2="345.4" y2="311.2" stroke="#222" stroke-width="1.3"/>
<rect x="325.9" y="313.3" width="25" height="23.899999999999977" fill="#fff" stroke="#333" stroke-width="1"/>
<line x1="338.4" y1="337.2" x2="338.4" y2="340.4" stroke="#222" stroke-width="1"/>
<line x1="377.2" y1="242.9" x2="377.2" y2="239.6" stroke="#222" stroke-width="1.2"/>
<line x1="370.2" y1="239.6" x2="384.2" y2="239.6" stroke="#222" stroke-width="1.3"/>
<rect x="364.2" y="242.9" width="26" height="94.29999999999998" fill="#0b0b0b"/>
<line x1="377.2" y1="337.2" x2="377.2" y2="340.4" stroke="#222" stroke-width="1"/>
<line x1="415.8" y1="312.8" x2="415.8" y2="310.5" stroke="#222" stroke-width="1.2"/>
<line x1="408.8" y1="310.5" x2="422.8" y2="310.5" stroke="#222" stroke-width="1.3"/>
<rect x="403.3" y="313.3" width="25" height="23.899999999999977" fill="#fff" stroke="#333" stroke-width="1"/>
<line x1="415.8" y1="337.2" x2="415.8" y2="340.4" stroke="#222" stroke-width="1"/>
<line x1="454.6" y1="299.8" x2="454.6" y2="292.9" stroke="#222" stroke-width="1.2"/>
<line x1="447.6" y1="292.9" x2="461.6" y2="292.9" stroke="#222" stroke-width="1.3"/>
<rect x="441.6" y="299.8" width="26" height="37.39999999999998" fill="#0b0b0b"/>
<line x1="454.6" y1="337.2" x2="454.6" y2="340.4" stroke="#222" stroke-width="1"/>
<line x1="328.6" y1="343.4" x2="389.4" y2="343.4" stroke="#333" stroke-width="1.1"/>
<line x1="404.7" y1="343.4" x2="465.2" y2="343.4" stroke="#333" stroke-width="1.1"/>
<text x="361.3" y="353.4" font-size="10.3" text-anchor="middle" fill="#222" font-weight="normal" font-style="italic" stroke="#222" stroke-width="0.15" >wt</text>
<text x="424.3" y="353" font-size="10" font-style="italic" fill="#222" stroke="#222" stroke-width="0.15">cd36<tspan font-size="6" dy="-4">-/-</tspan></text>
<text transform="translate(278.9,285.3) rotate(-90)" font-size="10.5" text-anchor="middle" fill="#222" stroke="#222" stroke-width="0.15">Aggregation</text>
<text transform="translate(291.6,285.2) rotate(-90)" font-size="10.5" text-anchor="middle" fill="#222" stroke="#222" stroke-width="0.15">(% of max amplitude)</text>
<polyline points="339.4,227.8 339.4,221.7 455.4,221.7 455.4,227.8" fill="none" stroke="#8a8a8a" stroke-width="1"/>
<line x1="377.7" y1="221.7" x2="377.7" y2="227.8" stroke="#8a8a8a" stroke-width="1"/>
<text x="358" y="215" font-size="8.7" text-anchor="middle" fill="#222" font-weight="normal" font-style="normal" stroke="#222" stroke-width="0.15" >p&lt;0.0001</text>
<text x="417.5" y="215" font-size="8.7" text-anchor="middle" fill="#222" font-weight="normal" font-style="normal" stroke="#222" stroke-width="0.15" >p=0.0003</text>
<polyline points="417.2,279.6 417.2,275.9 455.8,275.9 455.8,279.6" fill="none" stroke="#8a8a8a" stroke-width="1"/>
<text x="436.3" y="270" font-size="8.7" text-anchor="middle" fill="#222" font-weight="normal" font-style="normal" stroke="#222" stroke-width="0.15" >p=0.14</text>
<rect x="465.7" y="234.6" width="10.8" height="6.6" fill="#fff" stroke="#555" stroke-width="1"/>
<rect x="465.2" y="248.5" width="11.7" height="7.3" fill="#111"/>
<text x="480.6" y="241.5" font-size="8.5" text-anchor="start" fill="#222" font-weight="normal" font-style="normal" stroke="#222" stroke-width="0.15" >BSA</text>
<text x="480.4" y="255.7" font-size="8.5" text-anchor="start" fill="#222" font-weight="normal" font-style="normal" stroke="#222" stroke-width="0.15" >AGE-BSA</text>
<text x="0.8" y="380" font-size="18" text-anchor="start" fill="#000" font-weight="bold" font-style="normal" >C</text>
<text x="88.3" y="366.5" font-size="10" text-anchor="middle" fill="#222" font-weight="normal" font-style="normal" stroke="#222" stroke-width="0.15" >ADP</text>
<line x1="85.5" y1="370.4" x2="85.5" y2="378.3" stroke="#333" stroke-width="1"/>
<polygon points="83.05,377.3 87.95,377.3 85.5,386.1" fill="#111"/>
<text x="62.5" y="399.6" font-size="10" text-anchor="end" fill="#222" font-weight="normal" font-style="normal" stroke="#222" stroke-width="0.15" >0</text>
<line x1="67.6" y1="397.3" x2="67.6" y2="497.59999999999997" stroke="#555" stroke-width="1"/>
<polygon points="65.14999999999999,496.59999999999997 70.05,496.59999999999997 67.6,505.4" fill="#111"/>
<text x="63.2" y="506" font-size="10" text-anchor="end" fill="#222" font-weight="normal" font-style="normal" stroke="#222" stroke-width="0.15" >100</text>
<text transform="translate(40.7,449.5) rotate(-90)" font-size="10.45" text-anchor="middle" fill="#222" stroke="#222" stroke-width="0.15">Light transmission (%)</text>
<text x="81" y="526.2" font-size="10" text-anchor="middle" fill="#222" font-weight="normal" font-style="normal" stroke="#222" stroke-width="0.15" >1 min</text>
<line x1="68.5" y1="531.7" x2="93.5" y2="531.7" stroke="#555" stroke-width="1.2"/>
<polyline points="74.62,395.69 75.16,396.15 75.81,396.10 76.15,396.06 76.62,395.73 77.43,395.60 77.80,395.87 78.30,395.97 78.96,395.48 79.54,395.52 79.88,395.90 80.01,396.00 80.47,397.00 80.48,397.46 80.79,398.04 80.82,397.99 80.98,399.02 81.21,399.14 81.42,399.06 81.52,399.24 81.61,398.84 81.76,398.08 82.12,397.25 82.43,396.97 82.40,396.44 82.72,395.95 82.73,395.17 83.13,394.71 83.19,394.75 83.56,394.31 83.54,393.10 83.91,393.08 83.98,392.13 84.22,391.90 84.52,392.29 84.74,391.64 85.26,391.95 85.49,392.59 86.05,392.90 86.11,393.46 86.28,393.86 86.64,394.27 86.87,394.63 86.85,395.45 87.15,396.16 87.24,396.49 87.60,396.66 87.64,397.32 88.02,397.68 88.13,398.33 88.36,398.59 88.43,399.09 88.73,399.91 89.06,400.10 89.05,400.31 89.31,401.20 89.36,401.64 89.72,401.88 89.85,402.40 89.90,403.22 89.90,403.29 90.27,403.55 90.21,404.36 90.48,404.97 90.67,405.48 90.53,405.48 90.68,406.26 90.81,406.81 91.13,407.04 91.34,407.69 91.51,408.13 91.54,408.76 91.57,409.43 91.63,409.49 91.87,410.48 92.06,410.28 92.14,411.23 92.43,411.31 92.56,412.02 92.62,412.52 92.73,413.46 93.01,413.89 93.10,414.19 93.06,414.14 93.42,415.14 93.54,415.33 93.61,416.29 93.88,416.04 94.01,416.78 94.12,417.76 94.56,418.11 94.48,418.27 94.71,418.99 95.11,419.52 95.29,419.46 95.25,419.91 95.69,420.98 95.78,420.98 96.07,421.36 96.10,421.74 96.49,422.55 96.62,423.34 96.75,423.96 97.00,424.39 97.25,424.19 97.38,424.78 97.44,425.36 97.83,425.62 97.86,426.15 98.22,426.93 98.32,427.43 98.53,427.77 98.62,428.58 98.89,429.18 98.97,429.63 99.29,429.89 99.39,430.36 99.52,430.45 99.84,430.92 100.04,431.84 100.53,432.19 100.66,432.70 101.14,433.05 101.24,433.44 101.58,433.63 101.79,434.54 102.23,435.03 102.38,434.92 102.77,435.19 102.99,436.01 103.33,436.73 103.65,436.95 103.95,437.48 104.22,437.25 104.77,438.24 104.92,438.03 105.36,438.79 105.75,438.60 106.27,438.91 106.61,439.53 107.01,439.55 107.44,440.07 107.88,440.52 108.30,440.77 108.61,441.51 109.24,441.55 109.45,441.63 110.17,442.02 110.45,442.42 111.17,441.89 111.58,442.25 111.99,442.06 112.67,442.34 113.20,442.30 113.65,441.86 114.07,442.47 114.85,442.52 115.14,442.39 115.69,441.98 116.20,442.26 116.88,442.06 117.24,441.95 117.70,441.46 118.32,440.99 118.72,440.68 119.34,440.55 119.63,440.42 120.28,440.51 120.74,440.48 121.30,439.77 121.72,439.54 122.13,439.32 122.57,439.30 123.31,439.37 123.56,438.85 124.21,438.93 124.53,438.42 125.18,438.66 125.53,438.63 126.07,438.32 126.65,437.96 127.27,437.84 127.61,437.79 128.22,437.98 128.70,437.46 129.17,437.40 129.75,437.55 130.19,436.89 130.64,437.05 131.05,437.33 131.56,437.27 132.15,437.04 132.73,437.28 133.32,437.50 133.78,436.91 134.25,437.10 134.84,437.06 135.18,436.72 135.72,437.13 136.19,436.78 136.75,436.76 137.17,437.06 137.73,437.10 138.30,437.02 138.69,436.76 139.32,437.60 139.75,437.20 140.26,437.61 140.82,437.76 141.18,437.34 141.75,437.63 142.31,437.75 142.99,437.90 143.38,438.43 143.91,438.24 144.47,438.14 144.74,438.74 145.39,438.55 145.76,438.78 146.36,438.80 146.84,439.11 147.37,438.66 148.03,438.68 148.35,438.94 149.07,438.69 149.34,439.29 149.81,439.03 150.53,439.32 151.04,438.89 151.57,439.14 152.06,439.28 152.59,439.33 152.90,439.12 153.48,439.09 153.89,439.80 154.52,439.84 154.89,439.57 155.49,439.30 155.93,439.97 156.57,439.65 157.03,439.95 157.64,439.75 157.87,439.99 158.40,439.50 158.89,439.73 159.52,439.71 159.99,439.47 160.57,439.80 160.94,440.06 161.63,440.16 162.15,439.52 162.47,439.87 162.93,440.17 163.62,439.74 164.00,440.46 164.62,440.10 164.88,440.16 165.51,440.48 165.91,440.13 166.65,439.98 167.03,440.10 167.58,440.42 168.13,440.32 168.61,440.38 168.86,440.32 169.37,440.62 170.14,440.65 170.57,440.45 171.00,440.91 171.38,441.00 171.98,440.85 172.60,441.20 172.89,440.79 173.37,440.97 174.04,441.59 174.64,441.56 174.89,441.56 175.58,441.37 176.15,441.53 176.39,441.31 176.89,441.72 177.54,442.04 177.85,441.49 178.64,441.81 178.93,442.42 179.38,442.49 180.12,442.43 180.53,442.11 181.03,442.73 181.58,442.77 181.88,442.67 182.55,442.68 182.88,442.94 183.59,443.30 183.96,443.76 184.52,443.31 185.02,443.93 185.46,443.72 186.02,444.29 186.54,443.77 187.02,444.00 187.49,444.44 187.86,444.40 188.44,444.59 189.10,444.60 189.54,444.57 189.93,444.86 190.51,444.74 191.08,445.07 191.46,444.99 192.10,445.62 192.63,445.21 192.87,445.63 193.36,445.92 194.05,445.62 194.48,446.01 194.90,445.87 195.59,446.23 196.02,445.88 196.41,446.11 196.85,446.52 197.51,446.86 198.00,446.96 198.46,446.74 198.90,446.80 199.59,446.93 199.81,446.93 200.36,447.25 200.95,447.23 201.57,447.57 201.81,447.09 202.49,447.65 202.97,447.67 203.28,447.74 204.02,447.97 204.27,447.69 205.03,448.13 205.30,448.37" fill="none" stroke="#3b6fb6" stroke-width="3.2" stroke-linejoin="round" stroke-linecap="round" opacity="1"/>
<polyline points="74.69,396.37 75.11,396.98 75.73,396.52 76.33,395.24 76.61,395.99 77.18,396.79 77.72,396.81 78.30,394.87 78.99,395.75 79.41,395.84 79.92,397.03 80.31,396.40 80.66,396.76 81.08,396.32 81.44,397.93 81.83,396.58 82.06,395.37 82.30,395.96 82.80,396.18 82.82,395.03 83.23,393.96 83.45,392.71 83.51,393.29 83.83,392.73 83.92,393.12 84.18,391.97 84.41,392.08 84.89,392.10 85.25,392.87 85.43,394.02 85.84,393.54 86.31,392.90 86.25,393.45 86.48,395.55 86.78,394.26 86.90,395.74 87.07,395.48 87.48,396.34 87.47,397.42 87.63,397.61 87.99,397.18 88.15,397.89 88.40,399.11 88.65,399.26 88.62,398.65 88.97,400.57 88.97,400.17 89.21,400.47 89.54,401.07 89.65,402.31 89.65,402.41 89.81,402.60 90.00,403.54 90.03,404.37 90.16,403.69 90.51,405.75 90.50,406.48 90.54,406.87 90.73,405.20 91.03,406.12 91.17,406.14 91.12,407.55 91.24,408.48 91.46,409.41 91.64,410.32 91.89,408.76 92.05,410.96 92.08,410.70 92.10,410.70 92.25,410.92 92.51,411.71 92.69,412.73 92.85,412.23 92.99,413.57 93.06,413.42 93.23,414.28 93.39,414.79 93.39,414.84 93.76,414.87 93.91,416.48 94.13,416.33 94.25,417.35 94.52,416.81 94.64,418.05 94.85,418.66 94.93,419.33 95.32,419.98 95.51,420.99 95.52,421.15 95.63,422.63 96.01,421.25 96.16,422.82 96.40,422.60 96.66,423.70 96.60,424.50 97.03,423.55 97.17,425.52 97.42,424.20 97.59,425.06 97.77,426.43 97.86,427.42 98.16,428.04 98.40,427.59 98.52,428.45 98.61,428.78 98.84,428.48 98.95,430.18 99.32,430.23 99.46,430.38 99.59,430.98 99.57,431.38 100.00,431.60 99.97,431.94 100.04,433.97 100.10,434.42 100.46,435.01 100.42,435.71 100.58,434.88 100.89,435.66 100.93,435.21 100.86,435.99 101.02,437.45 101.19,438.24 101.44,437.25 101.58,438.00 101.65,438.19 101.88,440.60 101.94,440.69 102.02,439.95 102.17,441.75 102.40,440.93 102.46,442.24 102.55,441.65 102.84,442.56 103.14,443.06 103.25,445.04 103.29,445.10 103.65,445.34 103.64,446.69 103.77,447.26 103.95,446.69 104.12,447.46 104.46,447.84 104.42,449.02 104.76,448.21 104.97,447.90 105.06,450.32 105.30,450.30 105.27,450.34 105.53,450.82 105.77,451.17 106.01,452.21 106.32,451.67 106.33,452.09 106.48,454.23 106.93,453.04 106.96,455.48 107.31,456.24 107.55,455.51 107.47,455.84 107.80,455.82 107.93,457.58 108.25,457.28 108.29,457.99 108.48,457.71 108.68,459.46 109.12,457.97 109.32,460.25 109.51,459.62 109.81,459.35 109.83,461.80 110.14,461.91 110.55,460.18 110.61,462.02 110.88,462.39 111.30,462.16 111.49,462.35 111.87,463.54 112.07,464.23 112.13,465.05 112.61,464.94 112.80,465.51 113.11,466.11 113.22,466.91 113.46,465.94 113.82,468.36 114.16,467.38 114.39,468.32 114.71,468.31 114.98,469.19 115.38,469.40 115.65,470.18 115.74,469.28 116.09,470.22 116.44,470.34 116.89,471.92 116.99,472.24 117.45,471.70 117.66,473.73 117.88,473.74 118.31,472.93 118.43,474.71 118.86,473.86 119.24,475.17 119.74,475.71 120.08,474.63 120.34,474.44 120.66,475.88 121.03,476.48 121.39,477.09 121.85,476.44 122.31,476.92 122.49,478.51 123.12,478.74 123.42,477.72 123.99,477.74 124.54,479.07 124.88,478.02 125.27,479.20 125.94,478.71 126.29,478.87 126.87,480.38 127.29,480.89 127.57,479.88 128.00,480.94 128.47,480.09 128.97,481.99 129.62,480.87 130.16,480.95 130.40,481.65 131.09,481.22 131.59,482.05 132.09,481.57 132.36,480.91 133.07,481.87 133.58,481.19 133.93,481.37 134.61,482.40 134.90,482.67 135.36,482.13 135.93,482.97 136.57,482.94 136.91,481.64 137.54,483.39 137.85,483.96 138.62,482.77 139.01,483.63 139.63,483.53 140.00,483.89 140.50,482.43 141.01,483.49 141.45,483.58 141.92,483.14 142.57,484.31 142.99,484.54 143.39,483.63 144.07,484.20 144.47,482.70 145.14,483.75 145.55,483.27 145.88,483.74 146.47,484.57 147.05,484.35 147.52,484.04 147.89,484.51 148.52,483.45 148.90,482.67 149.55,484.04 150.03,483.14 150.47,484.63 151.01,485.27 151.33,485.26 151.80,485.29 152.45,484.10 152.91,485.51 153.54,484.44 153.92,486.28 154.30,486.44 155.04,485.16 155.32,484.58 155.83,484.95 156.48,485.76 156.95,485.98 157.42,485.35 157.81,484.40 158.32,483.73 159.07,483.62 159.43,484.60 160.00,483.40 160.38,484.83 160.97,483.55 161.49,484.23 162.15,483.43 162.40,483.67 163.02,485.42 163.58,483.38 164.01,483.51 164.64,484.31 165.03,483.24 165.48,484.01 165.96,483.76 166.38,483.37 167.15,483.12 167.50,483.95 168.09,483.81 168.46,483.95 168.91,483.48 169.35,482.29 169.90,482.53 170.57,481.88 171.11,481.94 171.64,483.85 172.03,483.61 172.63,482.76 173.11,481.76 173.60,483.23 174.11,482.27 174.41,482.74 175.08,483.22 175.46,483.12 176.21,482.31 176.68,483.52 177.15,482.24 177.58,482.41 178.01,481.68 178.56,481.79 179.26,482.40 179.77,482.64 180.28,483.15 180.74,481.98 181.11,482.38 181.64,482.90 182.07,482.26 182.68,481.36 183.25,482.38 183.90,480.76 184.40,482.07 184.78,481.34 185.19,482.21 185.79,482.06 186.43,481.86 186.88,481.40 187.22,481.57 187.71,481.11 188.50,481.81 188.76,481.60 189.24,482.03 189.80,480.89 190.43,482.19 190.75,481.62 191.42,481.09 191.87,479.82 192.34,480.76 192.83,481.67 193.33,481.34 193.97,481.11 194.37,480.46 194.97,479.79 195.28,479.74 195.86,480.75 196.50,481.79 196.83,480.85 197.23,481.44 197.85,480.39 198.46,480.09 198.75,480.98 199.49,479.97 199.76,481.33 200.28,481.88 200.68,480.42 201.27,481.67 201.70,481.20 202.43,481.74 202.91,479.68 203.31,480.04 203.69,480.30 204.37,480.89 204.69,480.04" fill="none" stroke="#c9464e" stroke-width="3.4" stroke-linejoin="round" stroke-linecap="round" opacity="1"/>
<polyline points="74.61,395.84 75.21,395.71 75.71,395.94 76.18,395.91 76.88,395.72 77.31,395.79 77.94,395.66 78.32,395.74 78.96,395.60 79.56,395.86 79.89,395.97 79.97,396.27 80.34,396.51 80.63,397.28 80.64,397.42 80.74,398.08 81.02,398.44 81.14,398.86 81.34,399.25 81.51,399.11 81.74,398.30 81.95,398.04 82.18,397.80 82.25,397.23 82.41,396.60 82.54,396.20 82.86,395.47 83.07,394.92 83.18,394.62 83.49,393.73 83.57,393.76 83.76,392.88 84.05,392.44 84.37,392.40 84.39,391.75 84.73,391.95 85.14,392.37 85.69,392.38 85.76,392.81 86.11,393.26 86.36,393.86 86.65,394.69 86.92,394.83 87.01,395.13 87.20,396.05 87.47,396.08 87.45,397.01 87.81,397.39 87.81,397.78 87.99,398.32 88.42,398.54 88.37,399.26 88.87,399.66 88.87,399.96 89.19,400.81 89.23,400.84 89.58,401.44 89.56,401.85 89.78,402.74 89.84,403.14 89.96,403.37 90.22,404.18 90.34,404.50 90.50,405.11 90.68,405.36 90.65,405.53 90.83,406.22 90.81,407.09 91.04,407.54 91.09,407.67 91.45,408.35 91.56,408.72 91.52,409.41 91.86,409.68 91.94,410.35 92.06,410.64 92.19,411.28 92.41,411.52 92.56,412.03 92.66,412.51 92.87,413.33 92.97,413.48 92.98,413.99 93.20,414.24 93.34,415.25 93.37,415.71 93.70,416.25 93.94,416.56 94.14,416.86 94.14,417.59 94.56,417.99 94.55,418.33 94.83,418.73 95.01,419.26 95.35,419.84 95.54,420.48 95.49,420.88 95.74,421.25 95.99,421.81 96.10,422.25 96.31,422.79 96.54,423.18 96.88,423.44 96.77,424.29 97.12,424.61 97.40,425.25 97.45,425.80 97.64,426.14 97.97,426.42 98.03,426.92 98.20,427.45 98.54,427.74 98.77,428.67 98.83,429.09 98.94,429.66" fill="none" stroke="#3b6fb6" stroke-width="3.0" stroke-linejoin="round" stroke-linecap="round" opacity="0.25"/>
<text x="207.2" y="453" font-size="10.5" text-anchor="start" fill="#222" font-weight="normal" font-style="normal" stroke="#222" stroke-width="0.15" >BSA</text>
<text x="207.2" y="484.8" font-size="10.5" text-anchor="start" fill="#222" font-weight="normal" font-style="normal" stroke="#222" stroke-width="0.15" >AGE-BSA</text>
<line x1="343" y1="403" x2="343" y2="525.2" stroke="#222" stroke-width="1.1"/>
<line x1="338.5" y1="524.7" x2="466" y2="524.7" stroke="#222" stroke-width="1.1"/>
<line x1="338.5" y1="524.7" x2="343" y2="524.7" stroke="#222" stroke-width="1"/>
<text x="333.5" y="527.4000000000001" font-size="10.3" text-anchor="end" fill="#222" font-weight="normal" font-style="normal" stroke="#222" stroke-width="0.15" >0</text>
<line x1="338.5" y1="505.50000000000006" x2="343" y2="505.50000000000006" stroke="#222" stroke-width="1"/>
<text x="333.5" y="508.20000000000005" font-size="10.3" text-anchor="end" fill="#222" font-weight="normal" font-style="normal" stroke="#222" stroke-width="0.15" >20</text>
<line x1="338.5" y1="486.3" x2="343" y2="486.3" stroke="#222" stroke-width="1"/>
<text x="333.5" y="489.0" font-size="10.3" text-anchor="end" fill="#222" font-weight="normal" font-style="normal" stroke="#222" stroke-width="0.15" >40</text>
<line x1="338.5" y1="467.1" x2="343" y2="467.1" stroke="#222" stroke-width="1"/>
<text x="333.5" y="469.8" font-size="10.3" text-anchor="end" fill="#222" font-weight="normal" font-style="normal" stroke="#222" stroke-width="0.15" >60</text>
<line x1="338.5" y1="447.9" x2="343" y2="447.9" stroke="#222" stroke-width="1"/>
<text x="333.5" y="450.59999999999997" font-size="10.3" text-anchor="end" fill="#222" font-weight="normal" font-style="normal" stroke="#222" stroke-width="0.15" >80</text>
<line x1="338.5" y1="428.7" x2="343" y2="428.7" stroke="#222" stroke-width="1"/>
<text x="333.5" y="431.4" font-size="10.3" text-anchor="end" fill="#222" font-weight="normal" font-style="normal" stroke="#222" stroke-width="0.15" >100</text>
<line x1="338.5" y1="409.5" x2="343" y2="409.5" stroke="#222" stroke-width="1"/>
<text x="333.5" y="412.2" font-size="10.3" text-anchor="end" fill="#222" font-weight="normal" font-style="normal" stroke="#222" stroke-width="0.15" >120</text>
<line x1="382.2" y1="489.5" x2="382.2" y2="479.3" stroke="#222" stroke-width="1.2"/>
<line x1="378.6" y1="479.3" x2="385.8" y2="479.3" stroke="#222" stroke-width="1.3"/>
<rect x="366.8" y="490" width="30.8" height="34.700000000000045" fill="#fff" stroke="#222" stroke-width="1"/>
<line x1="443.6" y1="425.2" x2="443.6" y2="420.2" stroke="#222" stroke-width="1.2"/>
<line x1="440" y1="420.2" x2="447.2" y2="420.2" stroke="#222" stroke-width="1.3"/>
<rect x="427.6" y="425.2" width="32" height="99.50000000000006" fill="#1a1a1a"/>
<polyline points="385.7,416.3 385.7,410.2 443.1,410.2 443.1,416.3" fill="none" stroke="#8a8a8a" stroke-width="1"/>
<text x="412.9" y="405.8" font-size="8.7" text-anchor="middle" fill="#222" font-weight="normal" font-style="normal" stroke="#222" stroke-width="0.15" >p=0.004</text>
<text x="382.2" y="537.3" font-size="8.4" text-anchor="middle" fill="#222" font-weight="normal" font-style="normal" stroke="#222" stroke-width="0.15" >BSA</text>
<text x="443.4" y="537.3" font-size="8.6" text-anchor="middle" fill="#222" font-weight="normal" font-style="normal" stroke="#222" stroke-width="0.15" >AGE-BSA</text>
<text transform="translate(296.4,466.7) rotate(-90)" font-size="10.5" text-anchor="middle" fill="#222" stroke="#222" stroke-width="0.15">Aggregation</text>
<text transform="translate(309.8,466.7) rotate(-90)" font-size="10.5" text-anchor="middle" fill="#222" stroke="#222" stroke-width="0.15">(% of max amplitude)</text>
</svg>
</body></html>
